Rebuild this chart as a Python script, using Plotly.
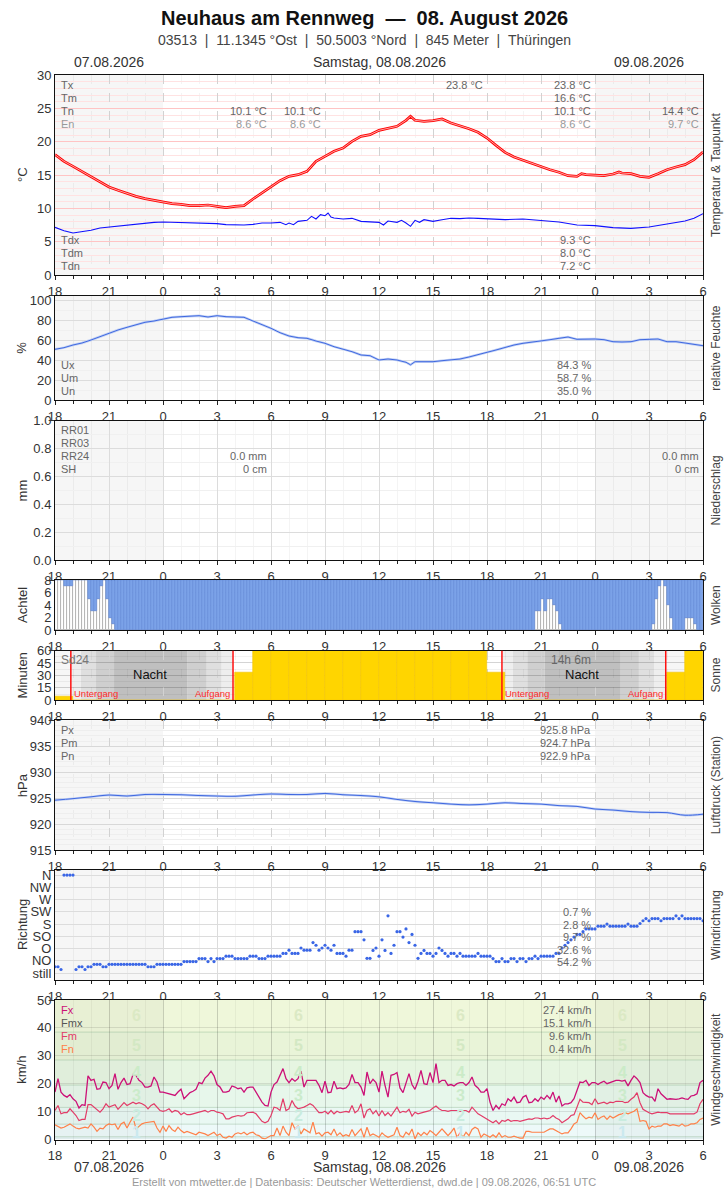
import plotly.graph_objects as go

# ------------------------------------------------------------------ data
x_tickvals = [0, 3, 6, 9, 12, 15, 18, 21, 24, 27, 30, 33, 36]
x_ticktext = ["18", "21", "0", "3", "6", "9", "12", "15", "18", "21", "0", "3", "6"]

# temperature (hours after 07.08. 18:00)
temp_hours = [0, 0.5, 1, 1.5, 2, 2.5, 3, 3.5, 4, 4.5, 5, 5.5, 6, 6.5, 7, 7.5, 8, 8.5, 9, 9.5,
              10, 10.5, 11, 11.5, 12, 12.5, 13, 13.5, 14, 14.5, 15, 15.5, 16, 16.5, 17, 17.5,
              18, 18.5, 19, 19.5, 19.75, 20, 20.5, 21, 21.5, 22, 22.5, 23, 23.5, 24, 24.5, 25,
              25.5, 26, 26.5, 27, 27.5, 28, 28.5, 29, 29.25, 29.5, 30, 30.5, 31, 31.33, 31.5,
              32, 32.5, 33, 33.5, 34, 34.5, 35, 35.5, 36]
temp_values = [18.05, 17.05, 16.3, 15.55, 14.8, 14.05, 13.2, 12.7, 12.2, 11.8, 11.45, 11.2, 11.0,
               10.7, 10.6, 10.4, 10.4, 10.5, 10.3, 10.1, 10.3, 10.4, 11.4, 12.3, 13.3, 14.15, 14.8,
               15.05, 15.55, 17.05, 17.8, 18.55, 19.05, 20.05, 20.8, 21.05, 21.7, 22.05, 22.3,
               23.2, 23.8, 23.2, 23.05, 23.15, 23.4, 22.8, 22.4, 21.95, 21.4, 20.55, 19.45, 18.4,
               17.7, 17.2, 16.8, 16.3, 15.8, 15.4, 14.9, 14.8, 15.2, 15.05, 14.95, 14.9, 15.15,
               15.45, 15.3, 15.2, 14.8, 14.65, 15.2, 15.8, 16.2, 16.55, 17.3, 18.45]

dew_hours = [0, 0.5, 1, 1.5, 2, 2.5, 3, 3.5, 4, 4.5, 5, 5.5, 6, 6.5, 7, 7.5, 8, 8.5, 9, 9.5, 10,
             10.5, 11, 11.5, 12, 12.5, 12.83, 13, 13.25, 13.5, 14, 14.25, 14.5, 14.75, 15, 15.17,
             15.33, 15.5, 16, 16.5, 17, 17.5, 18, 18.25, 18.5, 19, 19.25, 19.5, 19.75, 20, 20.25,
             20.5, 21, 21.5, 22, 22.5, 23, 23.5, 24, 25, 26, 27, 28, 29, 30, 31, 32, 33, 34, 35,
             35.5, 36]
dew_values = [7.15, 6.65, 6.3, 6.45, 6.7, 7.05, 7.2, 7.3, 7.5, 7.7, 7.8, 7.9, 7.95, 7.9, 7.95, 7.8,
              7.8, 7.7, 7.7, 7.55, 7.5, 7.5, 7.6, 7.8, 7.8, 7.9, 7.55, 7.8, 7.55, 8.05, 8.2, 8.8,
              8.4, 9.05, 8.9, 9.3, 8.7, 8.55, 8.4, 8.5, 8.05, 8.0, 7.9, 7.5, 8.1, 7.9, 8.2, 7.8,
              7.3, 8.2, 7.9, 8.3, 8.05, 8.3, 8.5, 8.45, 8.55, 8.5, 8.45, 8.3, 8.4, 8.2, 7.95, 7.5,
              7.4, 7.1, 7.0, 7.2, 7.6, 8.1, 8.5, 9.2]

hum_hours = [0, 0.5, 1, 1.5, 2, 2.5, 3, 3.5, 4, 4.5, 5, 5.5, 6, 6.5, 7, 7.5, 8, 8.5, 9, 9.5, 10,
             10.5, 11, 11.5, 12, 12.5, 13, 13.5, 14, 14.5, 15, 15.5, 16, 16.5, 17, 17.5, 18, 18.5,
             19, 19.5, 19.75, 20, 20.5, 21, 21.5, 22, 22.5, 23, 23.5, 24, 24.5, 25, 25.5, 26,
             26.5, 27, 27.5, 28, 28.5, 29, 29.5, 30, 30.5, 31, 31.5, 32, 32.5, 33, 33.5, 34, 34.5,
             35, 35.5, 36]
hum_values = [50.7, 52.3, 55, 57, 60, 63.3, 67.3, 70, 72.7, 75, 77.7, 79, 81, 82.7, 83.3, 84,
              84.3, 83, 84.3, 83.3, 83.3, 82.7, 79, 75.7, 71.7, 67.3, 64, 62.3, 61.7, 59, 56.7,
              53.3, 51, 48.3, 45, 44.3, 40, 41, 40, 37.7, 35.2, 38.3, 38.3, 38.3, 39.3, 40, 41,
              43, 45, 47.7, 50, 52.7, 55, 56.7, 57.7, 59, 60.3, 61.7, 63, 60.7, 61, 61, 60.3,
              58.3, 58, 58.3, 60.3, 61, 61, 58.3, 58.3, 57, 55.7, 54.3]

pres_hours = list(range(37))
pres_values = [924.6, 924.9, 925.25, 925.6, 925.4, 925.7, 925.7, 925.65, 925.5, 925.4, 925.35,
               925.6, 925.8, 925.7, 925.7, 925.9, 925.65, 925.5, 925.25, 924.75, 924.35, 924.1,
               923.85, 923.7, 923.85, 924.1, 923.95, 923.85, 923.55, 923.4, 922.9, 922.7, 922.4,
               922.25, 922.2, 921.7, 921.9]

# cloud cover, okta, 10-minute steps
cloud_okta = [
    0, 0, 0, 1, 1, 1, 0, 0, 0, 0, 0, 3, 5, 5, 3, 1, 0, 3, 6, 7,
    8, 8, 8, 8, 8, 8, 8, 8, 8, 8, 8, 8, 8, 8, 8, 8, 8, 8, 8, 8,
    8, 8, 8, 8, 8, 8, 8, 8, 8, 8, 8, 8, 8, 8, 8, 8, 8, 8, 8, 8,
    8, 8, 8, 8, 8, 8, 8, 8, 8, 8, 8, 8, 8, 8, 8, 8, 8, 8, 8, 8,
    8, 8, 8, 8, 8, 8, 8, 8, 8, 8, 8, 8, 8, 8, 8, 8, 8, 8, 8, 8,
    8, 8, 8, 8, 8, 8, 8, 8, 8, 8, 8, 8, 8, 8, 8, 8, 8, 8, 8, 8,
    8, 8, 8, 8, 8, 8, 8, 8, 8, 8, 8, 8, 8, 8, 8, 8, 8, 8, 8, 8,
    8, 8, 8, 8, 8, 8, 8, 8, 8, 8, 8, 8, 8, 8, 8, 8, 8, 8, 8, 8,
    5, 5, 3, 5, 3, 3, 4, 5, 7, 8, 8, 8, 8, 8, 8, 8, 8, 8, 8, 8,
    8, 8, 8, 8, 8, 8, 8, 8, 8, 8, 8, 8, 8, 8, 8, 8, 8, 8, 8, 7,
    3, 1, 0, 1, 4, 6, 8, 8, 8, 8, 6, 6, 6, 7, 8, 8]

# sunshine minutes per hour (18-19 ... 05-06)
sun_minutes = [5, 0, 0, 0, 0, 0, 0, 0, 0, 0, 34, 60, 60, 60, 60, 60, 60, 60, 60, 60, 60, 60, 60,
               60, 33, 0, 0, 0, 0, 0, 0, 0, 0, 0, 33, 60]
sunset_hours = [0.88, 24.83]
sunrise_hours = [9.89, 33.93]
twilight_edges = [[0.88, 1.44, 2.28, 3.28, 7.37, 8.43, 9.26, 9.89],
                  [24.83, 25.44, 26.24, 27.2, 31.43, 32.44, 33.28, 33.93]]
twilight_colors = ["#eeeeee", "#dfdfdf", "#cfcfcf", "#bfbfbf", "#cfcfcf", "#dfdfdf", "#eeeeee"]

# wind direction in degrees (0 = still, 360 = N), 10-minute steps
wind_dir_deg = [
    23, 23, 13, 360, 360, 360, 360, 13, 23, 23,
    13, 23, 23, 32, 32, 32, 23, 23, 32, 32,
    32, 32, 32, 32, 32, 32, 32, 32, 32, 32,
    32, 23, 23, 23, 32, 32, 32, 32, 32, 32,
    32, 32, 32, 42, 42, 42, 42, 42, 53, 53,
    53, 42, 53, 42, 53, 53, 53, 62, 62, 62,
    53, 53, 53, 53, 53, 62, 62, 62, 53, 53,
    53, 62, 62, 62, 62, 62, 72, 72, 84, 72,
    72, 72, 92, 84, 84, 84, 112, 102, 84, 92,
    102, 92, 84, 102, 72, 72, 72, 62, 84, 84,
    152, 152, 152, 122, 54, 54, 83, 92, 62, 122,
    83, 210, 72, 102, 152, 152, 132, 162, 112, 142,
    102, 54, 72, 83, 72, 72, 62, 72, 92, 83,
    72, 62, 72, 72, 62, 72, 62, 62, 62, 62,
    62, 72, 62, 62, 62, 62, 53, 42, 42, 53,
    42, 42, 53, 53, 42, 53, 53, 42, 53, 53,
    62, 53, 62, 62, 62, 62, 62, 72, 72, 92,
    102, 112, 122, 132, 142, 142, 152, 162, 162, 162,
    162, 172, 172, 172, 180, 172, 172, 172, 172, 172,
    172, 180, 172, 172, 172, 182, 192, 200, 192, 200,
    200, 200, 192, 200, 200, 200, 200, 210, 200, 210,
    200, 200, 200, 200, 200, 200, 192]
dir_tickvals = [0, 45, 90, 135, 180, 225, 270, 315, 360]
dir_ticktext = ["still", "NO", "O", "SO", "S", "SW", "W", "NW", "N"]

# wind speed km/h, 10-minute steps
wind_gust = [
    17.0, 21.8, 17.0, 15.8, 15.2, 16.1, 14.6, 13.7, 11.3, 12.5,
    12.2, 22.8, 21.2, 21.6, 18.0, 18.2, 20.6, 20.4, 18.2, 19.4,
    23.6, 18.0, 20.4, 22.0, 19.7, 20.0, 23.3, 23.0, 21.2, 20.4,
    18.8, 18.8, 19.2, 22.4, 20.6, 17.0, 17.0, 16.7, 16.4, 16.3,
    15.8, 17.0, 18.0, 14.6, 15.8, 16.8, 17.3, 18.0, 20.4, 20.0,
    22.0, 23.0, 24.5, 22.8, 19.7, 18.8, 17.0, 17.0, 17.3, 19.2,
    18.8, 18.2, 18.5, 17.0, 18.5, 18.8, 18.8, 17.0, 15.2, 13.4,
    12.2, 12.0, 17.0, 19.7, 20.6, 22.8, 25.4, 21.8, 20.4, 21.8,
    20.9, 21.8, 24.5, 18.8, 21.2, 21.2, 21.2, 21.2, 19.4, 16.8,
    20.9, 16.8, 17.0, 20.9, 18.2, 18.5, 18.2, 18.5, 19.7, 23.3,
    20.4, 20.4, 18.8, 15.8, 24.2, 20.0, 21.6, 20.4, 17.0, 24.5,
    19.4, 15.2, 23.0, 23.3, 24.0, 18.5, 16.8, 20.0, 23.6, 19.7,
    18.0, 20.9, 24.8, 20.0, 19.7, 24.0, 20.4, 27.2, 20.4, 21.2,
    21.2, 19.4, 19.7, 19.2, 20.0, 20.4, 20.4, 19.4, 20.4, 22.4,
    19.4, 18.5, 17.0, 17.0, 18.2, 13.4, 10.4, 12.2, 11.0, 12.8,
    12.2, 14.6, 13.7, 15.2, 13.2, 13.4, 15.2, 15.8, 13.2, 13.4,
    14.6, 13.7, 15.2, 14.4, 15.8, 14.6, 17.0, 13.4, 15.6, 12.0,
    12.8, 12.8, 13.2, 14.6, 17.6, 20.6, 20.4, 21.2, 19.4, 20.4,
    20.4, 19.7, 20.4, 20.9, 20.0, 20.4, 20.9, 21.2, 21.2, 20.9,
    21.2, 19.2, 21.2, 22.8, 21.8, 20.4, 16.8, 15.8, 15.2, 15.2,
    13.7, 18.2, 16.4, 15.2, 14.4, 14.6, 14.4, 14.4, 14.6, 14.9,
    14.6, 14.4, 15.6, 15.8, 16.4, 20.4, 21.2]
wind_mean = [
    10.4, 12.2, 9.2, 9.6, 9.6, 11.0, 9.8, 8.6, 6.8, 7.2,
    7.2, 12.5, 12.5, 11.6, 10.8, 9.8, 11.0, 12.8, 11.6, 12.2,
    12.5, 10.8, 12.2, 13.2, 12.2, 12.8, 13.4, 12.8, 13.2, 12.8,
    12.2, 11.0, 12.2, 12.8, 11.6, 10.4, 10.1, 10.4, 11.0, 9.8,
    10.4, 10.1, 8.9, 9.6, 8.9, 8.9, 9.2, 9.6, 9.8, 10.1,
    10.4, 9.8, 10.4, 10.4, 9.8, 9.6, 9.2, 7.4, 7.4, 8.0,
    8.4, 8.6, 8.4, 8.6, 9.6, 9.6, 9.8, 9.2, 8.0, 6.5,
    6.0, 6.5, 8.6, 11.6, 11.3, 10.4, 14.6, 10.4, 11.0, 14.0,
    12.0, 11.0, 11.3, 11.6, 12.2, 12.8, 12.2, 10.8, 9.6, 9.6,
    10.1, 9.2, 10.4, 9.2, 10.1, 9.6, 9.8, 10.1, 9.8, 12.2,
    9.6, 10.4, 12.8, 7.7, 10.4, 11.0, 9.2, 10.4, 8.4, 10.4,
    8.6, 9.6, 8.4, 10.1, 11.6, 9.6, 10.1, 9.8, 10.8, 8.4,
    9.8, 9.2, 9.6, 9.8, 10.1, 10.4, 11.3, 12.0, 11.0, 10.4,
    10.4, 10.1, 10.4, 10.4, 10.4, 10.1, 10.4, 10.4, 9.8, 11.6,
    10.4, 9.2, 8.6, 8.0, 7.4, 6.5, 6.0, 6.8, 5.6, 6.8,
    6.5, 7.2, 6.5, 6.8, 6.8, 6.5, 6.8, 7.2, 7.4, 7.2,
    7.7, 7.7, 7.4, 7.7, 7.4, 7.7, 8.6, 7.7, 7.2, 6.0,
    6.8, 7.4, 8.6, 8.9, 11.6, 14.4, 13.4, 13.2, 13.2, 12.5,
    14.6, 12.8, 13.2, 13.4, 12.8, 13.4, 13.2, 13.7, 13.7, 13.7,
    13.2, 13.4, 14.4, 15.2, 16.8, 13.2, 10.8, 10.1, 9.6, 9.2,
    9.6, 9.8, 9.6, 9.6, 9.6, 9.2, 9.2, 9.2, 9.2, 9.2,
    9.2, 9.2, 9.2, 9.2, 9.8, 12.8, 14.4]
wind_min = [
    5.3, 4.8, 4.1, 4.4, 5.0, 5.6, 4.8, 4.1, 3.8, 4.1,
    4.4, 4.1, 5.6, 4.4, 2.9, 4.1, 3.8, 5.0, 5.6, 5.3,
    5.6, 3.6, 5.6, 6.2, 4.1, 6.2, 8.0, 3.8, 4.8, 5.6,
    6.0, 6.2, 6.5, 6.5, 4.1, 2.6, 4.8, 2.9, 5.0, 3.6,
    2.9, 4.4, 3.2, 2.4, 2.9, 2.4, 2.0, 1.7, 2.6, 2.4,
    2.0, 1.4, 2.0, 2.6, 1.4, 2.0, 0.8, 0.5, 1.2, 0.8,
    2.0, 2.4, 2.0, 2.6, 1.7, 2.4, 2.6, 1.7, 1.4, 0.5,
    0.2, 0.8, 1.4, 1.4, 4.1, 1.4, 4.8, 2.6, 1.4, 6.0,
    3.8, 4.8, 2.0, 3.8, 3.2, 2.4, 6.2, 2.0, 2.4, 1.2,
    2.4, 2.6, 1.7, 3.8, 1.4, 2.4, 1.2, 1.7, 1.2, 3.6,
    1.4, 2.6, 3.8, 0.8, 4.4, 1.4, 2.0, 1.4, 0.8, 2.4,
    1.4, 0.8, 1.4, 1.7, 4.4, 1.4, 0.8, 2.6, 1.7, 3.8,
    0.2, 2.4, 1.4, 2.6, 1.7, 3.2, 2.4, 1.4, 2.6, 3.8,
    2.6, 1.4, 2.6, 4.1, 0.8, 2.4, 0.8, 2.6, 1.4, 3.6,
    4.4, 3.8, 0.8, 2.0, 1.4, 0.8, 1.7, 0.8, 2.4, 0.8,
    1.4, 0.8, 0.8, 1.2, 0.8, 0.5, 0.5, 2.9, 2.9, 2.6,
    2.6, 2.6, 2.4, 2.6, 3.2, 3.8, 3.8, 3.2, 2.4, 2.0,
    2.4, 2.4, 3.8, 5.6, 6.2, 9.6, 8.4, 7.4, 8.0, 7.7,
    9.6, 7.2, 8.0, 8.4, 7.2, 8.4, 7.7, 8.4, 8.9, 9.2,
    9.6, 9.2, 9.6, 10.1, 11.0, 6.5, 6.8, 6.5, 3.8, 4.8,
    4.4, 4.8, 4.8, 5.6, 5.6, 5.0, 5.3, 5.0, 4.8, 5.6,
    4.8, 5.0, 5.6, 5.6, 6.0, 7.2, 7.7]

bft_bounds = [0, 1, 5.5, 11.5, 19.5, 28.5, 38.5, 50]
bft_colors = ["#e4f3f3", "#edf9f9", "#e9f8f3", "#e7f7eb", "#e6f5e1", "#e9f4d8", "#eff7da"]
bft_label_y = [2.6, 8.6, 15.6, 24.0, 33.8, 44.4]
bft_label_x = [4.5, 13.5, 22.5, 31.5]
bft_label_colors = ["#cbe9ef", "#c9ecdf", "#cbebcb", "#cbebc8", "#d3e8c3", "#dbe9c4"]

# summary texts
temp_day_vals = ["23.8 °C", "16.6 °C", "10.1 °C", "8.6 °C"]
dew_day_vals = ["9.3 °C", "8.0 °C", "7.2 °C"]
hum_day_vals = ["84.3 %", "58.7 %", "35.0 %"]
pres_day_vals = ["925.8 hPa", "924.7 hPa", "922.9 hPa"]
dir_day_vals = ["0.7 %", "2.8 %", "9.7 %", "32.6 %", "54.2 %"]
wind_day_vals = ["27.4 km/h", "15.1 km/h", "9.6 km/h", "0.4 km/h"]

# ------------------------------------------------------------------ layout helpers
W, H = 728, 1190
ML, MR, MT, MB = 55, 25, 75, 50
PH = H - MT - MB
PW = W - ML - MR


def py(ypx):
    return (H - MB - ypx) / PH


def hx(xpx):
    return (xpx - ML) / 18.0


PAGE_CX = (W / 2 - ML) / PW   # page centre in paper coordinates

panels = [(75, 275), (295.7, 400), (420.5, 560.3), (580, 630), (650.5, 700.3),
          (720.3, 850), (870, 980), (1000, 1139.5)]

t10 = [i / 6 for i in range(217)]
FONT = "Liberation Sans, Arial, sans-serif"

fig = go.Figure()


def ax(k):
    return ("x", "y") if k == 1 else (f"x{k}", f"y{k}")


# --- temperature
xa, ya = ax(1)
fig.add_trace(go.Scatter(x=temp_hours, y=temp_values, mode="lines", xaxis=xa, yaxis=ya,
                         line=dict(color="#ff0000", width=2.7)))
fig.add_trace(go.Scatter(x=temp_hours, y=temp_values, mode="lines", xaxis=xa, yaxis=ya,
                         line=dict(color="rgba(255,255,255,0.8)", width=0.8)))
fig.add_trace(go.Scatter(x=dew_hours, y=dew_values, mode="lines", xaxis=xa, yaxis=ya,
                         line=dict(color="#1010ff", width=1.1)))
# --- humidity
xa, ya = ax(2)
fig.add_trace(go.Scatter(x=hum_hours, y=hum_values, mode="lines", xaxis=xa, yaxis=ya,
                         line=dict(color="#c2d1f4", width=2.4)))
fig.add_trace(go.Scatter(x=hum_hours, y=hum_values, mode="lines", xaxis=xa, yaxis=ya,
                         line=dict(color="#3f68e0", width=1.0)))
# --- precipitation (none) : empty trace to keep axis
xa, ya = ax(3)
fig.add_trace(go.Scatter(x=[0], y=[0], mode="markers", xaxis=xa, yaxis=ya,
                         marker=dict(size=1, color="rgba(0,0,0,0)")))
# --- clouds
xa, ya = ax(4)
cx = [i / 6 + 1 / 12 for i in range(len(cloud_okta))]
clear = [8 - c for c in cloud_okta]
fig.add_trace(go.Bar(x=cx, y=clear, base=0, width=1 / 6, xaxis=xa, yaxis=ya,
                     marker=dict(color="#ffffff", line=dict(color="#a8a8a8", width=0.8))))
fig.add_trace(go.Bar(x=cx, y=cloud_okta, base=clear, width=1 / 6, xaxis=xa, yaxis=ya,
                     marker=dict(color="#7ba2e8", line=dict(color="#5f86d8", width=0.6))))
# --- sunshine
xa, ya = ax(5)
fig.add_trace(go.Bar(x=[h + 0.5 for h in range(len(sun_minutes))], y=sun_minutes, width=1,
                     xaxis=xa, yaxis=ya,
                     marker=dict(color="#ffd500", line=dict(color="#f2c400", width=0.6))))
# --- pressure
xa, ya = ax(6)
fig.add_trace(go.Scatter(x=pres_hours, y=pres_values, mode="lines", xaxis=xa, yaxis=ya,
                         line=dict(color="#c2d1f4", width=2.4, shape="spline")))
fig.add_trace(go.Scatter(x=pres_hours, y=pres_values, mode="lines", xaxis=xa, yaxis=ya,
                         line=dict(color="#3f68e0", width=1.0, shape="spline")))
# --- wind direction
xa, ya = ax(7)
fig.add_trace(go.Scatter(x=t10, y=wind_dir_deg, mode="markers", xaxis=xa, yaxis=ya,
                         marker=dict(color="#3a66e6", size=3.2)))
# --- wind speed
xa, ya = ax(8)
fig.add_trace(go.Scatter(x=t10, y=wind_min, mode="lines", xaxis=xa, yaxis=ya,
                         line=dict(color="#ff8048", width=1.2)))
fig.add_trace(go.Scatter(x=t10, y=wind_mean, mode="lines", xaxis=xa, yaxis=ya,
                         line=dict(color="#e23c68", width=1.2)))
fig.add_trace(go.Scatter(x=t10, y=wind_gust, mode="lines", xaxis=xa, yaxis=ya,
                         line=dict(color="#cc1177", width=1.3)))

# ------------------------------------------------------------------ axes
vgrid = {1: ("#d2d2d2", "dash"), 2: ("#dcdcdc", "solid"), 3: ("#dcdcdc", "solid"),
         4: ("#dcdcdc", "solid"), 5: ("#d2d2d2", "dash"), 6: ("#d2d2d2", "dash"),
         7: ("#dcdcdc", "solid"), 8: ("rgba(0,0,0,0.13)", "solid")}
yconf = {
    1: dict(range=[0, 30], tickvals=[0, 5, 10, 15, 20, 25, 30], gridcolor="#ffc4c4",
            minor=dict(dtick=1, showgrid=True, gridcolor="#ffe2e2")),
    2: dict(range=[0, 104.3], tickvals=[0, 20, 40, 60, 80, 100], gridcolor="#dcdcdc",
            minor=dict(dtick=10, showgrid=True, gridcolor="#f0f0f0")),
    3: dict(range=[0, 1.0], tickvals=[0, 0.2, 0.4, 0.6, 0.8, 1.0], tickformat=".1f",
            gridcolor="#dcdcdc", minor=dict(dtick=0.1, showgrid=True, gridcolor="#f0f0f0")),
    4: dict(range=[0, 8], tickvals=[0, 2, 4, 6, 8], gridcolor="#dcdcdc"),
    5: dict(range=[0, 60], tickvals=[0, 15, 30, 45, 60], gridcolor="rgba(0,0,0,0.12)",
            minor=dict(dtick=7.5, showgrid=True, gridcolor="rgba(0,0,0,0.05)")),
    6: dict(range=[915, 940], tickvals=[915, 920, 925, 930, 935, 940], gridcolor="#d8d8d8",
            minor=dict(dtick=1, showgrid=True, gridcolor="#eeeeee")),
    7: dict(range=[-25.6, 378.5], tickvals=dir_tickvals, ticktext=dir_ticktext,
            gridcolor="#dcdcdc"),
    8: dict(range=[0, 50], tickvals=[0, 10, 20, 30, 40, 50], gridcolor="rgba(0,0,0,0.10)"),
}

lay = {}
for k in range(1, 9):
    xname = "xaxis" if k == 1 else f"xaxis{k}"
    yname = "yaxis" if k == 1 else f"yaxis{k}"
    top, bot = panels[k - 1]
    gc, gd = vgrid[k]
    lay[xname] = dict(domain=[0, 1], anchor="y" if k == 1 else f"y{k}", range=[0, 36],
                      tickmode="array", tickvals=x_tickvals, ticktext=x_ticktext,
                      ticks="outside", ticklen=4, tickcolor="#222",
                      tickfont=dict(size=13, color="#333", family=FONT),
                      showline=True, linecolor="#111", linewidth=1, mirror=True,
                      showgrid=True, gridcolor=gc, griddash=gd, zeroline=False,
                      minor=dict(dtick=1, tick0=0, ticks="outside", ticklen=3, tickcolor="#222",
                                 showgrid=True, gridcolor="rgba(0,0,0,0.045)"),
                      fixedrange=True)
    yc = dict(domain=[py(bot), py(top)], anchor="x" if k == 1 else f"x{k}",
              showline=True, linecolor="#111", linewidth=1, mirror=True, ticks="",
              tickfont=dict(size=13, color="#333", family=FONT), showgrid=True,
              zeroline=False, fixedrange=True, tickmode="array")
    yc.update(yconf[k])
    lay[yname] = yc

fig.update_layout(**lay)

# ------------------------------------------------------------------ shapes
shapes = []
for k in (1, 2, 3, 5, 6, 7):
    xr = "x" if k == 1 else f"x{k}"
    yr = ("y" if k == 1 else f"y{k}") + " domain"
    for a, b in ((0, 6), (30, 36)):
        shapes.append(dict(type="rect", xref=xr, yref=yr, x0=a, x1=b, y0=0, y1=1,
                           fillcolor="#f6f6f6", line=dict(width=0), layer="below"))
# sun twilight bands
for edges in twilight_edges:
    for j in range(len(edges) - 1):
        shapes.append(dict(type="rect", xref="x5", yref="y5", x0=edges[j], x1=edges[j + 1],
                           y0=0, y1=60, fillcolor=twilight_colors[j], line=dict(width=0),
                           layer="below"))
for xv in sunset_hours + sunrise_hours:
    shapes.append(dict(type="line", xref="x5", yref="y5", x0=xv, x1=xv, y0=0, y1=60,
                       line=dict(color="#ff1010", width=1.5), layer="above"))
# wind speed beaufort bands
for j in range(len(bft_colors)):
    shapes.append(dict(type="rect", xref="x8", yref="y8", x0=0, x1=36, y0=bft_bounds[j],
                       y1=bft_bounds[j + 1], fillcolor=bft_colors[j], line=dict(width=0),
                       layer="below"))
for a, b in ((0, 6), (30, 36)):
    shapes.append(dict(type="rect", xref="x8", yref="y8", x0=a, x1=b, y0=0, y1=50,
                       fillcolor="rgba(90,90,90,0.045)", line=dict(width=0), layer="below"))
for yb in bft_bounds[1:-1]:
    shapes.append(dict(type="line", xref="x8", yref="y8", x0=0, x1=36, y0=yb, y1=yb,
                       line=dict(color="rgba(120,170,130,0.35)", width=1), layer="below"))
fig.update_layout(shapes=shapes)

# ------------------------------------------------------------------ annotations
anns = []


def txt(x, ypx, text, xanchor="left", color="#666", size=11, xref="x", bold=False):
    anns.append(dict(x=x, y=py(ypx), xref=xref, yref="paper", text=("<b>%s</b>" % text) if bold else text,
                     showarrow=False, xanchor=xanchor, yanchor="middle",
                     font=dict(size=size, color=color, family=FONT)))


NB = "\u00a0"
txt(PAGE_CX, 18, "Neuhaus am Rennweg" + NB * 2 + "—" + NB * 2 + "08. August 2026", "center",
    "#111", 20, "paper", bold=True)
txt(PAGE_CX, 40, ("03513" + NB * 2 + "|" + NB * 2 + "11.1345 °Ost" + NB * 2 + "|" + NB * 2 +
                  "50.5003 °Nord" + NB * 2 + "|" + NB * 2 + "845 Meter" + NB * 2 + "|" + NB * 2 +
                  "Thüringen"), "center", "#444", 14, "paper")
for ypx in (62, 1167):
    txt(3, ypx, "07.08.2026", "center", "#333", 14)
    txt(18, ypx, "Samstag, 08.08.2026", "center", "#333", 14)
    txt(33, ypx, "09.08.2026", "center", "#333", 14)
txt(PAGE_CX, 1182, "Erstellt von mtwetter.de | Datenbasis: Deutscher Wetterdienst, dwd.de | "
    "09.08.2026, 06:51 UTC", "center", "#999", 11, "paper")

LX = hx(59)
RC = hx(593)
# temperature panel
for lab, ypx, col in (("Tx", 85, "#666"), ("Tm", 98, "#666"), ("Tn", 111, "#666"),
                      ("En", 124, "#999"), ("Tdx", 240, "#666"), ("Tdm", 253, "#666"),
                      ("Tdn", 266, "#666")):
    txt(LX, ypx, lab, "left", col)
txt(hx(485), 85, "23.8 °C", "right")
for xp in (269, 323):
    txt(hx(xp), 111, "10.1 °C", "right")
    txt(hx(xp), 124, "8.6 °C", "right", "#999")
for v, ypx, col in zip(temp_day_vals, (85, 98, 111, 124), ("#666", "#666", "#666", "#999")):
    txt(RC, ypx, v, "right", col)
txt(hx(701), 111, "14.4 °C", "right")
txt(hx(701), 124, "9.7 °C", "right", "#999")
for v, ypx in zip(dew_day_vals, (240, 253, 266)):
    txt(RC, ypx, v, "right")
# humidity
for lab, ypx in (("Ux", 365), ("Um", 378), ("Un", 391)):
    txt(LX, ypx, lab)
for v, ypx in zip(hum_day_vals, (365, 378, 391)):
    txt(RC, ypx, v, "right")
# precipitation
for lab, ypx in (("RR01", 430), ("RR03", 443), ("RR24", 456), ("SH", 469)):
    txt(LX, ypx, lab)
for xp in (269, 701):
    txt(hx(xp), 456, "0.0 mm", "right")
    txt(hx(xp), 469, "0 cm", "right")
# sunshine
txt(LX, 660, "Sd24", "left", "#777", 12)
txt(RC, 660, "14h 6m", "right", "#666", 12)
txt(5.3, 674, "Nacht", "center", "#111", 13)
txt(29.3, 674, "Nacht", "center", "#111", 13)
for s in sunset_hours:
    txt(s + 0.05, 693, "Untergang", "left", "#ff2a2a", 9.5)
for r in sunrise_hours:
    txt(r - 0.05, 693, "Aufgang", "right", "#ff2a2a", 9.5)
# pressure
for lab, ypx in (("Px", 730), ("Pm", 743), ("Pn", 756)):
    txt(LX, ypx, lab)
for v, ypx in zip(pres_day_vals, (730, 743, 756)):
    txt(RC, ypx, v, "right")
# wind direction
for v, ypx in zip(dir_day_vals, (912, 925, 937, 950, 962)):
    txt(RC, ypx, v, "right")
# wind speed
for lab, ypx, col in (("Fx", 1010, "#cc1177"), ("Fmx", 1023, "#555"), ("Fm", 1036, "#e23c68"),
                      ("Fn", 1049, "#ff8048")):
    txt(LX, ypx, lab, "left", col)
for v, ypx in zip(wind_day_vals, (1010, 1023, 1036, 1049)):
    txt(RC, ypx, v, "right")
for bx in bft_label_x:
    for j, by in enumerate(bft_label_y):
        anns.append(dict(x=bx, y=by, xref="x8", yref="y8", text="<b>%d</b>" % (j + 1),
                         showarrow=False, xanchor="center", yanchor="middle",
                         font=dict(size=16, color=bft_label_colors[j], family=FONT)))

# axis titles
left_titles = ["°C", "%", "mm", "Achtel", "Minuten", "hPa", "Richtung", "km/h"]
right_titles = ["Temperatur & Taupunkt", "relative Feuchte", "Niederschlag", "Wolken", "Sonne",
                "Luftdruck (Station)", "Windrichtung", "Windgeschwindigkeit"]
for k in range(8):
    top, bot = panels[k]
    mid = (top + bot) / 2
    anns.append(dict(x=(22 - ML) / PW, y=py(mid), xref="paper", yref="paper",
                     text=left_titles[k], showarrow=False, textangle=-90, xanchor="center",
                     yanchor="middle", font=dict(size=13, color="#333", family=FONT)))
    anns.append(dict(x=(716 - ML) / PW, y=py(mid), xref="paper", yref="paper",
                     text=right_titles[k], showarrow=False, textangle=-90, xanchor="center",
                     yanchor="middle", font=dict(size=12, color="#444", family=FONT)))

fig.update_layout(annotations=anns)

fig.update_layout(width=W, height=H, margin=dict(l=ML, r=MR, t=MT, b=MB),
                  paper_bgcolor="white", plot_bgcolor="white", showlegend=False,
                  barmode="overlay", bargap=0, font=dict(family=FONT, color="#333"))

fig.write_html("out.html", config={"displayModeBar": False},
               post_script="document.body.style.margin='0';document.body.style.padding='0';"
                           "document.body.style.overflow='hidden';")
